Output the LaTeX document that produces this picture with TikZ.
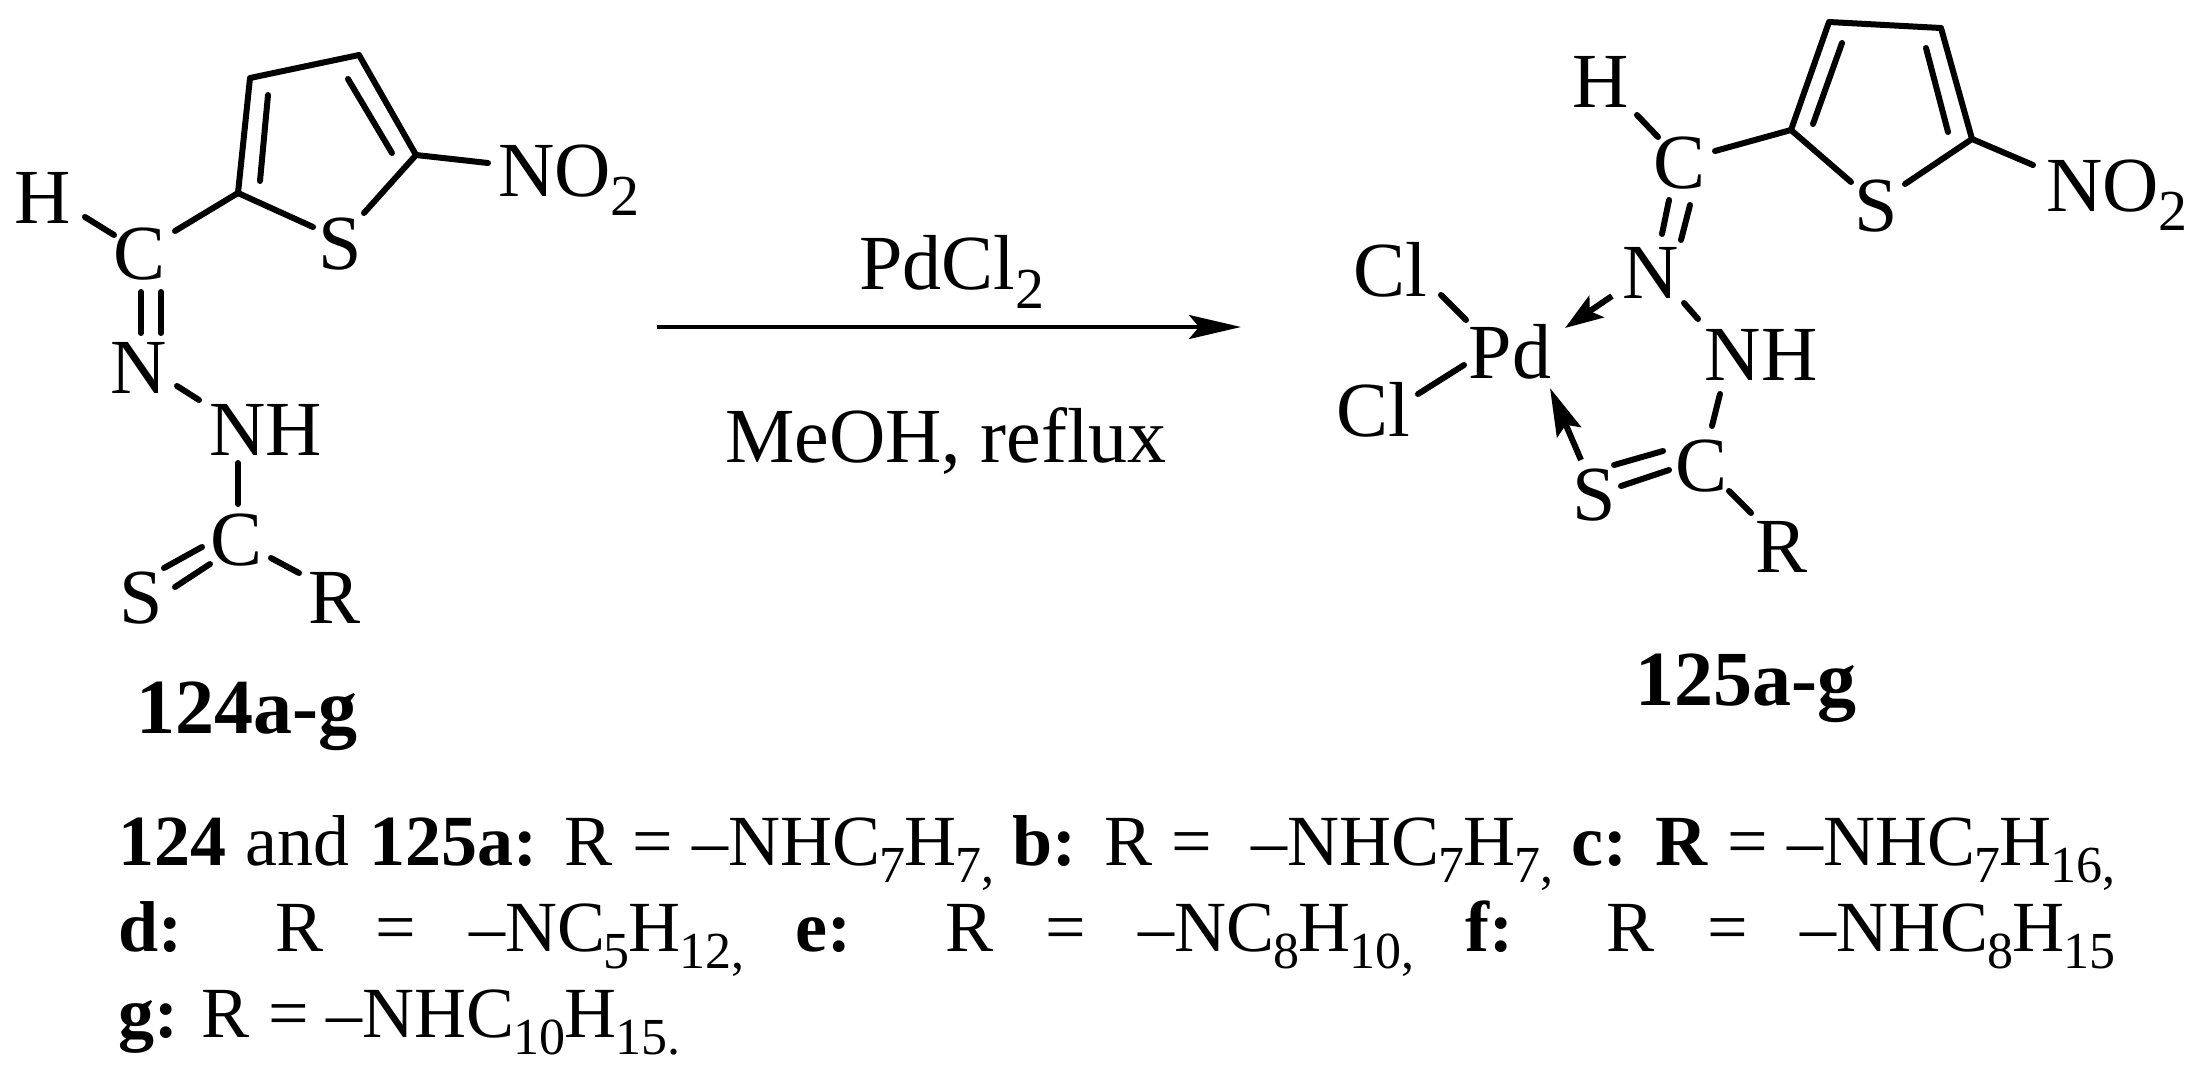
\documentclass[tikz,border=0pt]{standalone}
\usepackage{fontspec}
\setmainfont{Liberation Serif}
\usetikzlibrary{arrows.meta}
\newcommand\sbs[1]{\raisebox{-.25em}{\fontsize{29}{29}\selectfont #1}}
\newcommand\lsb[1]{\kern-.6pt\raisebox{-.24em}{\fontsize{26}{26}\selectfont #1}\kern-.6pt\relax}
\tikzset{
  x=0.5pt,y=-0.5pt,
  atom/.style={inner sep=0pt,outer sep=0pt,font=\fontsize{39}{39}\selectfont},
  lbl/.style={inner sep=0pt,outer sep=0pt,anchor=base,font=\fontsize{39}{39}\selectfont},
  cmpd/.style={lbl,font=\fontsize{39}{39}\selectfont\bfseries},
  legend/.style={inner sep=0pt,outer sep=0pt,anchor=base west,font=\fontsize{36}{36}\selectfont},
  bond/.style={line width=3pt,line cap=round,line join=round},
  dativeN/.style={line width=3pt,-{Stealth[length=19pt,width=13pt,inset=4pt]}},
  dativeS/.style={line width=3pt,-{Stealth[length=24pt,width=13pt,inset=4pt]}},
  react/.style={line width=1.8pt,-{Stealth[length=26pt,width=12pt,inset=5pt]}}
}
\begin{document}
\begin{tikzpicture}
\useasboundingbox[fill=white] (0,0) rectangle (2211,1071);
% left molecule
\coordinate (A) at (238,193);
\coordinate (B) at (250,78);
\coordinate (Cc) at (359,55);
\coordinate (D) at (416,155);
\coordinate (Bi) at (268,95);
\coordinate (Ai) at (260,181);
\coordinate (Ci) at (348,79);
\coordinate (Di) at (392,153);
\node[atom] (H1) at (43,198) {H};
\node[atom] (C1) at (140,254) {C};
\node[atom] (S1) at (340,244) {S};
\node[atom] (NO) at (569,180) {NO\sbs{2}};
\node[atom] (N1) at (139,368) {N};
\node[atom] (NH1) at (266,430) {NH};
\node[atom] (C2) at (237,540) {C};
\node[atom] (S2) at (141,598) {S};
\node[atom] (R1) at (335,598) {R};
\draw[bond] (A) -- (B) -- (Cc) -- (D);
\draw[bond] (Ai) -- (Bi);
\draw[bond] (Ci) -- (Di);
\draw[bond] ([shift={(42,19)}]H1.center) -- ([shift={(-26,-19)}]C1.center);
\draw[bond] ([shift={(35,-23)}]C1.center) -- (A);
\draw[bond] (A) -- ([shift={(-27,-17)}]S1.center);
\draw[bond] (D) -- ([shift={(24,-31)}]S1.center);
\draw[bond] (D) -- ([shift={(-81,-17)}]NO.center);
\draw[bond] ([shift={(1,38)}]C1.center) -- ([shift={(2,-35)}]N1.center);
\draw[bond] ([shift={(21,38)}]C1.center) -- ([shift={(22,-35)}]N1.center);
\draw[bond] ([shift={(38,18)}]N1.center) -- ([shift={(-67,-30)}]NH1.center);
\draw[bond] ([shift={(-28,33)}]NH1.center) -- ([shift={(1,-36)}]C2.center);
\draw[bond] ([shift={(23,-30)}]S2.center) -- ([shift={(-35,7)}]C2.center);
\draw[bond] ([shift={(34,-11)}]S2.center) -- ([shift={(-27,24)}]C2.center);
\draw[bond] ([shift={(34,18)}]C2.center) -- ([shift={(-36,-25)}]R1.center);
\node[cmpd] (L124) at (247,733) {124a-g};
% reaction arrow
\coordinate (arrS) at (657,327);
\coordinate (arrE) at (1241,327);
\draw[react] (arrS) -- (arrE);
\node[lbl] (pdcl) at (952,289) {PdCl\sbs{2}};
\node[lbl] (meoh) at (946,462) {MeOH, reflux};
% right molecule
\coordinate (A2) at (1791,130);
\coordinate (B2) at (1829,22);
\coordinate (C2c) at (1941,28);
\coordinate (D2) at (1972,139);
\coordinate (Ai2) at (1813,124);
\coordinate (Bi2) at (1842,43);
\coordinate (Ci2) at (1926,48);
\coordinate (Di2) at (1948,132);
\node[atom] (H2) at (1601,82) {H};
\node[atom] (C3) at (1679,163) {C};
\node[atom] (S3) at (1876,206) {S};
\node[atom] (NO2) at (2117,195) {NO\sbs{2}};
\node[atom] (N2) at (1651,273) {N};
\node[atom] (NH2) at (1761,355) {NH};
\node[atom] (C4) at (1701,466) {C};
\node[atom] (S4) at (1594,495) {S};
\node[atom] (R2) at (1781,547) {R};
\node[atom] (Pd) at (1510,352) {Pd};
\node[atom] (Cl1) at (1390,270) {Cl};
\node[atom] (Cl2) at (1373,410) {Cl};
\draw[bond] (A2) -- (B2) -- (C2c) -- (D2);
\draw[bond] (Ai2) -- (Bi2);
\draw[bond] (Ci2) -- (Di2);
\draw[bond] ([shift={(36,33)}]H2.center) -- ([shift={(-21,-26)}]C3.center);
\draw[bond] ([shift={(36,-12)}]C3.center) -- (A2);
\draw[bond] (A2) -- ([shift={(-25,-24)}]S3.center);
\draw[bond] (D2) -- ([shift={(29,-22)}]S3.center);
\draw[bond] (D2) -- ([shift={(-84,-30)}]NO2.center);
\draw[bond] ([shift={(-10,37)}]C3.center) -- ([shift={(11,-39)}]N2.center);
\draw[bond] ([shift={(11,42)}]C3.center) -- ([shift={(30,-33)}]N2.center);
\draw[dativeN] ([shift={(-39,23)}]N2.center) -- ([shift={(55,-24)}]Pd.center);
\draw[bond] ([shift={(33,30)}]N2.center) -- ([shift={(-63,-36)}]NH2.center);
\draw[bond] ([shift={(-41,39)}]NH2.center) -- ([shift={(11,-40)}]C4.center);
\draw[bond] ([shift={(20,-30)}]S4.center) -- ([shift={(-38,-15)}]C4.center);
\draw[bond] ([shift={(27,-9)}]S4.center) -- ([shift={(-32,4)}]C4.center);
\draw[bond] ([shift={(28,25)}]C4.center) -- ([shift={(-30,-34)}]R2.center);
\draw[dativeS] ([shift={(-13,-35)}]S4.center) -- ([shift={(40,36)}]Pd.center);
\draw[bond] ([shift={(51,25)}]Cl1.center) -- ([shift={(-44,-32)}]Pd.center);
\draw[bond] ([shift={(45,-16)}]Cl2.center) -- ([shift={(-46,13)}]Pd.center);
\node[cmpd] (L125) at (1746,705) {125a-g};
% legend
\node[legend] (l1) at (118,865) {\makebox[998pt][s]{\textbf{124} and \textbf{125a:} R = –NHC\lsb{7}H\lsb{7,} \textbf{b:} R =\ \ –NHC\lsb{7}H\lsb{7,} \textbf{c: R} = –NHC\lsb{7}H\lsb{16,}}};
\node[legend] (l2) at (118,951) {\makebox[998pt][s]{\textbf{d:} R = –NC\lsb{5}H\lsb{12,} \textbf{e:} R = –NC\lsb{8}H\lsb{10,} \textbf{f:} R = –NHC\lsb{8}H\lsb{15}}};
\node[legend] (l3) at (118,1037) {\textbf{g:} R = –NHC\lsb{10}H\lsb{15.}};
\end{tikzpicture}
\end{document}
